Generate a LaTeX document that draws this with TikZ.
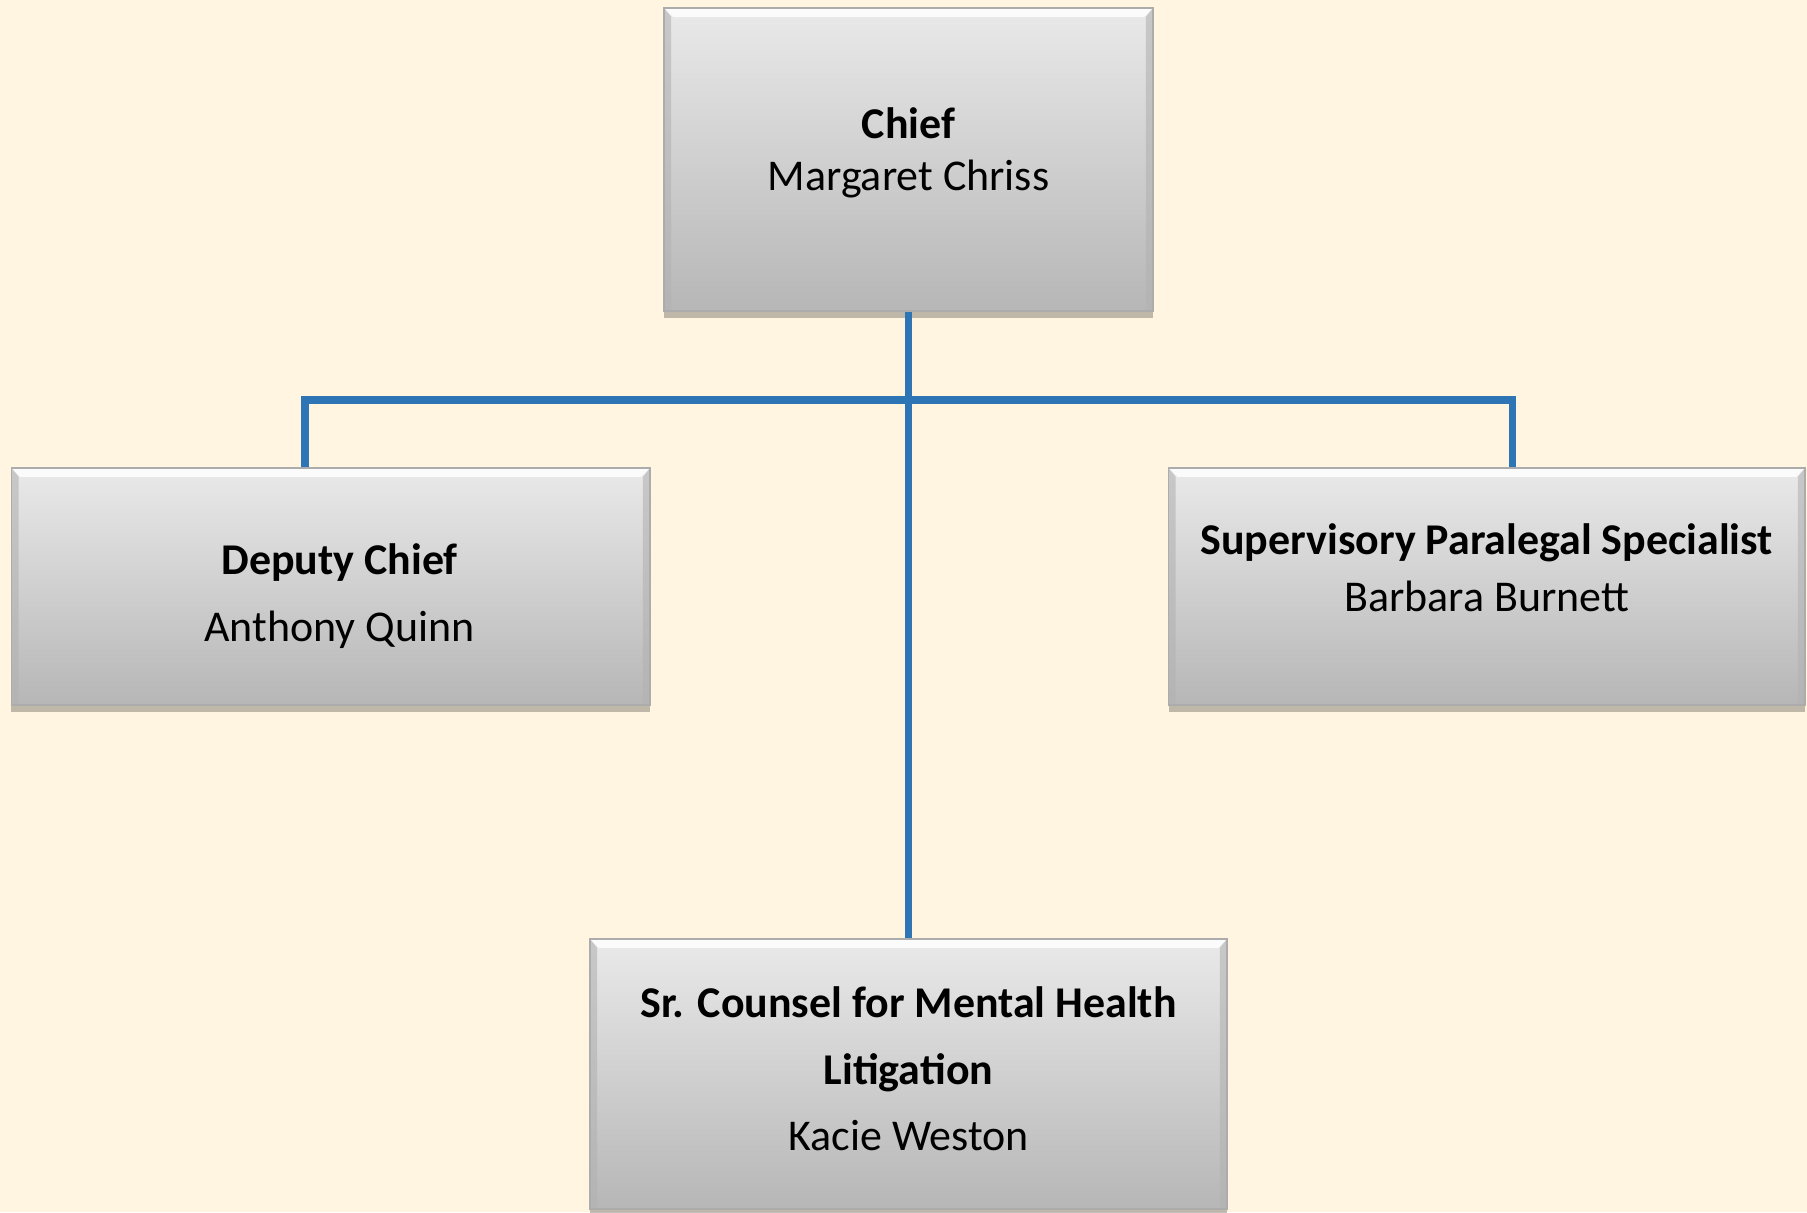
\documentclass[tikz,border=0pt]{standalone}
\usepackage{fontspec}
\setmainfont{Carlito}
\usepackage{xcolor}
\usetikzlibrary{shadows, positioning, calc}

\definecolor{paper}{HTML}{FFF5E1}
\definecolor{linkblue}{HTML}{2E75B6}

% raised block of centred lines (no height of its own)
\newcommand{\posttext}[2]{\raisebox{#1}[0pt][0pt]{\begin{tabular}{@{}c@{}}#2\end{tabular}}}

\begin{document}
\begin{tikzpicture}[
    post/.style={draw=gray!65, top color=gray!17, bottom color=gray!57, align=center, inner sep=0pt,
        font=\fontsize{12.5}{15}\selectfont,
        drop shadow={shadow xshift=0pt, shadow yshift=-2pt, opacity=0.25, fill=black},
        path picture={
            \fill[white, opacity=0.85] (path picture bounding box.north west) -- (path picture bounding box.north east)
                -- ([xshift=-2.5pt, yshift=-2.5pt]path picture bounding box.north east)
                -- ([xshift=2.5pt, yshift=-2.5pt]path picture bounding box.north west) -- cycle;
            \fill[gray!60, opacity=0.6] (path picture bounding box.north west) -- (path picture bounding box.south west)
                -- ([xshift=2pt]path picture bounding box.south west) -- ([xshift=2pt, yshift=-2.5pt]path picture bounding box.north west) -- cycle;
            \fill[gray!60, opacity=0.6] (path picture bounding box.north east) -- (path picture bounding box.south east)
                -- ([xshift=-2pt]path picture bounding box.south east) -- ([xshift=-2pt, yshift=-2.5pt]path picture bounding box.north east) -- cycle;
        }},
    wide/.style={font=\fontsize{12.5}{19}\selectfont},
    link/.style={draw=linkblue, line width=2pt}
]

    % --- background ---
    \fill[paper] (0,0) rectangle (18.07,-12.12);
    \useasboundingbox (0,0) rectangle (18.07,-12.12);

    % --- TOP ---
    \node[post, minimum width=4.89cm, minimum height=3.03cm] (chief) at (9.085,-1.595)
        {\posttext{-1.4pt}{\textbf{Chief}\\Margaret Chriss}};

    % --- SECOND ROW ---
    \node[post, wide, minimum width=6.385cm, minimum height=2.37cm] (deputy) at (3.3075,-5.865)
        {\hspace*{5pt}\posttext{-5.4pt}{\textbf{Deputy Chief}\\Anthony Quinn}};
    \node[post, font=\fontsize{12.5}{16}\selectfont, minimum width=6.365cm, minimum height=2.37cm] (paralegal) at (14.8675,-5.865)
        {\posttext{1.2pt}{\textbf{Supervisory Paralegal Specialist}\\Barbara Burnett}};

    % --- BOTTOM ---
    \node[post, wide, minimum width=6.37cm, minimum height=2.7cm] (counsel) at (9.085,-10.74)
        {\posttext{-2.1pt}{\textbf{Sr. Counsel for Mental Health}\\\textbf{Litigation}\\Kacie Weston}};

    % Connectors
    \coordinate (dropL) at (3.05,-4.00);
    \coordinate (dropR) at (15.12,-4.00);
    \draw[link] (chief.south) -- (counsel.north);
    \draw[link] (dropL |- deputy.north) -- (dropL) -- (dropR) -- (dropR |- paralegal.north);

\end{tikzpicture}
\end{document}
